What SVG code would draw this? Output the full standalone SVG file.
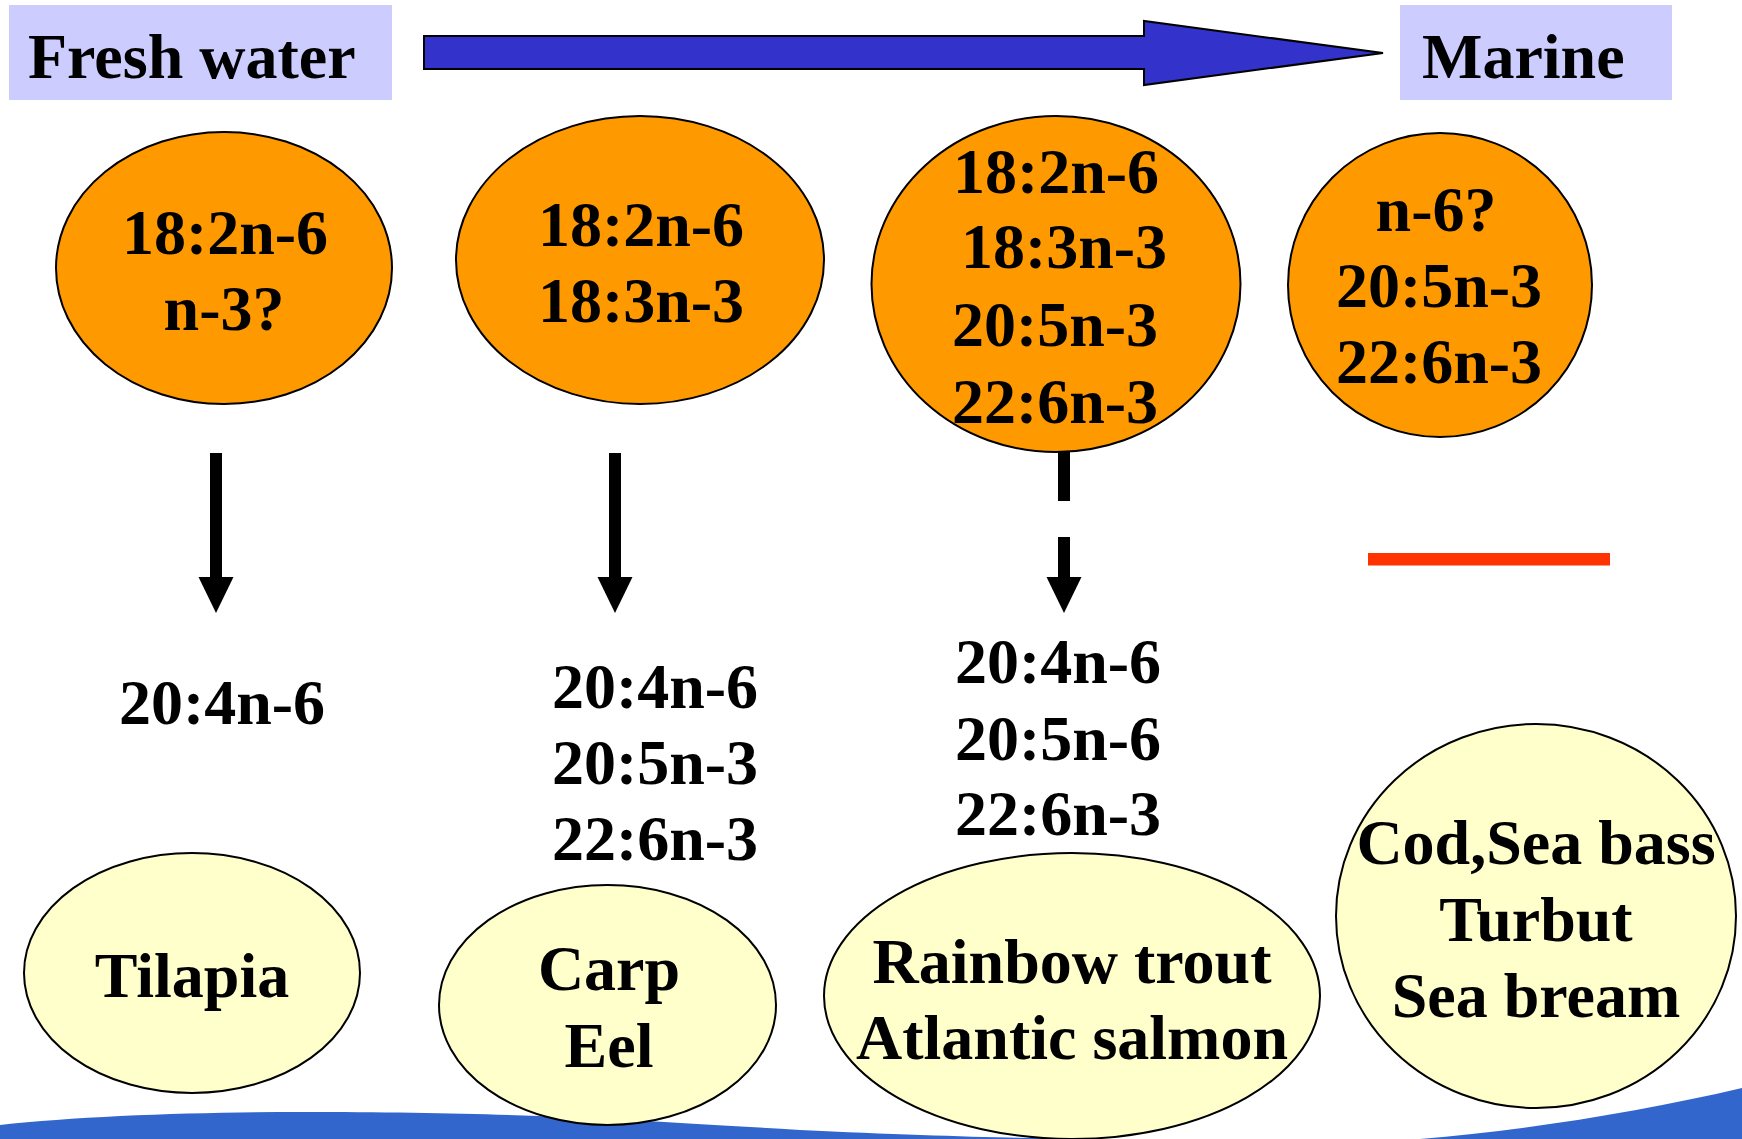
<svg xmlns="http://www.w3.org/2000/svg" width="1742" height="1139" viewBox="0 0 1742 1139">
<style>
text{font-family:"Liberation Serif","Times New Roman",serif;font-weight:bold;font-size:64px;fill:#000;text-anchor:middle}
.lbl{text-anchor:start}
.or{fill:#FF9900;stroke:#000;stroke-width:2}
.ye{fill:#FFFFCC;stroke:#000;stroke-width:2}
.box{fill:#CCCCFF}
.conn{stroke:#000;stroke-width:12;fill:none}
</style>
<defs>
<marker id="ah" markerUnits="userSpaceOnUse" markerWidth="37" markerHeight="36" refX="1" refY="17.5" orient="auto" viewBox="0 0 37 35">
<path d="M0,0 L36,17.5 L0,35 Z" fill="#000"/>
</marker>
</defs>
<rect width="1742" height="1139" fill="#fff"/>
<path d="M0,1125 C80,1116 200,1112 300,1112 C500,1112 600,1118 800,1130 C950,1137 1050,1139 1120,1139 L1420,1139 C1520,1131 1640,1112 1742,1088 L1742,1139 L0,1139 Z" fill="#3366CC"/>
<g id="fresh-water">
<rect class="box" x="9" y="5" width="383" height="95"/>
<text class="lbl" x="28" y="78">Fresh water</text>
</g>
<g id="marine">
<rect class="box" x="1400" y="5" width="272" height="95"/>
<text class="lbl" x="1422" y="78">Marine</text>
</g>
<g id="gradient-arrow">
<path d="M424,36 H1144 V21 L1383,53 L1144,85 V69 H424 Z" fill="#3333CC" stroke="#000" stroke-width="2"/>
</g>
<g id="connectors">
<line class="conn" x1="216" y1="453" x2="216" y2="578" marker-end="url(#ah)"/>
<line class="conn" x1="615" y1="453" x2="615" y2="578" marker-end="url(#ah)"/>
<line class="conn" x1="1064" y1="440" x2="1064" y2="501"/>
<line class="conn" x1="1064" y1="537" x2="1064" y2="578" marker-end="url(#ah)"/>
<rect x="1368" y="553" width="242" height="12.5" fill="#FF3300"/>
</g>
<g id="fa-tilapia">
<ellipse class="or" cx="224" cy="268" rx="168" ry="136"/>
<text x="225" y="254">18:2n-6</text>
<text x="224" y="330">n-3?</text>
</g>
<g id="fa-carp">
<ellipse class="or" cx="640" cy="260" rx="184" ry="144"/>
<text x="641" y="246">18:2n-6</text>
<text x="641" y="322">18:3n-3</text>
</g>
<g id="fa-trout">
<ellipse class="or" cx="1056" cy="284" rx="184.5" ry="168"/>
<text x="1056" y="193">18:2n-6</text>
<text x="1064" y="268">18:3n-3</text>
<text x="1055" y="346">20:5n-3</text>
<text x="1055" y="423">22:6n-3</text>
</g>
<g id="fa-marine">
<ellipse class="or" cx="1440" cy="285" rx="152" ry="152"/>
<text x="1436" y="231">n-6?</text>
<text x="1439" y="307">20:5n-3</text>
<text x="1439" y="383">22:6n-3</text>
</g>
<g id="prod-tilapia">
<text x="222" y="724">20:4n-6</text>
</g>
<g id="prod-carp">
<text x="655" y="708">20:4n-6</text>
<text x="655" y="784">20:5n-3</text>
<text x="655" y="860">22:6n-3</text>
</g>
<g id="prod-trout">
<text x="1058" y="683">20:4n-6</text>
<text x="1058" y="760">20:5n-6</text>
<text x="1058" y="835">22:6n-3</text>
</g>
<g id="sp-tilapia">
<ellipse class="ye" cx="192" cy="973" rx="168" ry="120"/>
<text x="192" y="997">Tilapia</text>
</g>
<g id="sp-carp">
<ellipse class="ye" cx="607.5" cy="1005" rx="168.5" ry="120"/>
<text x="609" y="990">Carp</text>
<text x="609" y="1067">Eel</text>
</g>
<g id="sp-trout">
<ellipse class="ye" cx="1072" cy="996" rx="248" ry="143"/>
<text x="1072" y="983">Rainbow trout</text>
<text x="1072" y="1059">Atlantic salmon</text>
</g>
<g id="sp-marine">
<ellipse class="ye" cx="1536" cy="916" rx="200" ry="192"/>
<text x="1536" y="864">Cod,Sea bass</text>
<text x="1536" y="941">Turbut</text>
<text x="1536" y="1017">Sea bream</text>
</g>
</svg>
